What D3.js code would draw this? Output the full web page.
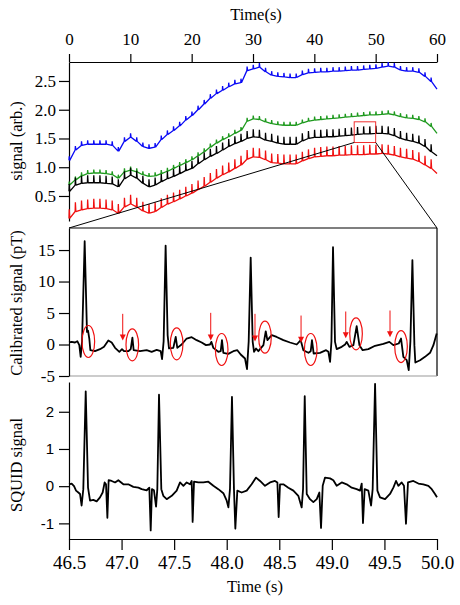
<!DOCTYPE html>
<html><head><meta charset="utf-8">
<script src="https://cdn.jsdelivr.net/npm/d3@7"></script>
<style>body{margin:0;background:#fff}svg{display:block}</style>
</head><body>
<svg id="c" width="460" height="605"></svg>
<script>
// ---------- DATA ----------
const overviewTime = [0,1,2,3,4,5,6,7,8,9,10,11,12,13,14,15,16,17,18,19,20,21,22,23,24,25,26,27,28,29,30,31,32,33,34,35,36,37,38,39,40,41,42,43,44,45,46,47,48,49,50,51,52,53,54,55,56,57,58,59,60];
const blueSignal = [1.12,1.30,1.38,1.40,1.40,1.40,1.40,1.38,1.28,1.45,1.52,1.45,1.36,1.33,1.35,1.48,1.57,1.64,1.72,1.82,1.90,2.00,2.10,2.20,2.28,2.34,2.40,2.45,2.47,2.68,2.71,2.74,2.66,2.60,2.58,2.57,2.56,2.56,2.61,2.64,2.65,2.66,2.66,2.67,2.67,2.68,2.69,2.69,2.70,2.71,2.72,2.74,2.76,2.74,2.69,2.67,2.67,2.65,2.58,2.49,2.36];
const greenSignal = [0.69,0.78,0.85,0.89,0.90,0.90,0.89,0.87,0.81,0.92,0.95,0.92,0.87,0.84,0.85,0.89,0.93,0.98,1.03,1.08,1.13,1.20,1.27,1.35,1.42,1.48,1.53,1.59,1.64,1.80,1.84,1.83,1.79,1.76,1.74,1.73,1.73,1.73,1.77,1.80,1.82,1.83,1.84,1.85,1.86,1.87,1.88,1.89,1.90,1.91,1.91,1.92,1.93,1.91,1.88,1.86,1.85,1.83,1.79,1.71,1.59];
const blackSignal = [0.58,0.69,0.72,0.73,0.73,0.73,0.72,0.71,0.66,0.80,0.86,0.81,0.72,0.66,0.69,0.75,0.80,0.84,0.89,0.94,0.98,1.06,1.13,1.19,1.24,1.30,1.36,1.41,1.45,1.50,1.53,1.52,1.47,1.45,1.42,1.40,1.40,1.40,1.46,1.50,1.52,1.52,1.53,1.53,1.54,1.55,1.56,1.57,1.58,1.58,1.59,1.59,1.58,1.55,1.50,1.47,1.45,1.42,1.36,1.27,1.20];
const redSignal = [0.11,0.23,0.26,0.28,0.29,0.29,0.28,0.26,0.20,0.31,0.36,0.31,0.24,0.20,0.23,0.30,0.36,0.40,0.45,0.50,0.55,0.61,0.67,0.74,0.81,0.87,0.92,0.98,1.04,1.14,1.18,1.17,1.13,1.08,1.07,1.06,1.06,1.06,1.11,1.15,1.18,1.19,1.20,1.20,1.21,1.21,1.22,1.22,1.22,1.23,1.23,1.24,1.23,1.21,1.18,1.16,1.14,1.10,1.04,0.98,0.89];
const spikeAmp = [0.07, 0.06, 0.13, 0.16];          // blue, green, black, red
const overviewXTicks = [0,10,20,30,40,50,60];
const overviewYTicks = [0.5,1.0,1.5,2.0,2.5];
const zoomWindow = [46.5, 50.0, 1.43, 1.79];        // t0, t1, v0, v1

const ecgTime = [46.500,46.525,46.557,46.579,46.598,46.611,46.624,46.649,46.671,46.681,46.693,46.703,46.747,46.795,46.833,46.874,46.906,46.938,46.979,47.004,47.023,47.064,47.087,47.103,47.115,47.175,47.239,47.286,47.334,47.372,47.385,47.400,47.419,47.438,47.451,47.492,47.515,47.530,47.571,47.619,47.667,47.714,47.762,47.803,47.841,47.854,47.873,47.920,47.943,47.955,47.968,48.015,48.063,48.101,48.133,48.174,48.193,48.209,48.228,48.247,48.260,48.279,48.301,48.349,48.371,48.387,48.428,48.475,48.539,48.602,48.666,48.704,48.729,48.777,48.799,48.811,48.827,48.887,48.945,48.967,48.983,48.996,49.011,49.030,49.046,49.094,49.126,49.141,49.167,49.205,49.236,49.262,49.293,49.347,49.411,49.490,49.547,49.585,49.636,49.658,49.680,49.712,49.731,49.747,49.766,49.785,49.794,49.839,49.886,49.934,49.966,49.997];
const ecgSignal = [0.32,0.42,0.32,0.53,-0.10,-1.96,0.50,16.40,2.00,2.20,0.95,-0.90,-1.06,-0.74,-0.37,0.63,0.32,-0.53,-1.16,-0.74,-1.06,-1.06,-0.74,1.10,-0.90,-1.06,-0.90,-1.16,-0.85,-1.06,-2.33,0.50,15.70,1.50,-0.63,-0.53,1.20,-0.53,0.00,0.95,1.16,0.69,0.32,-0.10,0.00,0.42,-0.53,-1.16,-1.06,0.69,-1.32,-1.48,-1.06,-0.90,-1.59,-2.22,-3.90,0.50,13.80,0.42,-1.16,-0.63,-1.06,-0.10,2.10,0.69,1.50,1.20,0.69,0.32,0.00,0.69,-0.90,-1.32,-1.06,0.69,-1.43,-1.32,-0.90,-1.16,-2.75,0.50,15.45,0.42,-0.74,-0.37,0.00,0.42,-0.37,-0.10,2.90,-0.10,-0.90,-0.74,-0.20,0.10,0.42,-0.10,0.16,0.95,-1.96,-2.49,-4.07,0.50,13.40,-0.10,-2.86,-2.49,-1.96,-1.32,-0.10,1.75];
const circleTime = [46.684,47.102,47.524,47.952,48.364,48.799,49.230,49.658];
const circleSignal = [0.48,-0.05,0.11,-0.79,1.16,-0.79,1.70,-0.32];
const arrowTime = [47.011,47.848,48.269,48.707,49.132,49.553];
const arrowFrom = [4.87,5.03,4.87,4.60,5.24,5.40];
const arrowTo = [0.63,0.63,0.48,0.27,1.00,1.16];
const ecgYTicks = [15,10,5,0,-5];

const squidTime = [46.500,46.525,46.548,46.567,46.589,46.605,46.620,46.636,46.659,46.681,46.700,46.731,46.763,46.795,46.820,46.839,46.852,46.865,46.877,46.906,46.938,46.969,47.017,47.064,47.112,47.160,47.191,47.239,47.264,47.277,47.289,47.308,47.328,47.340,47.356,47.378,47.397,47.429,47.477,47.524,47.556,47.588,47.619,47.651,47.667,47.676,47.689,47.730,47.778,47.825,47.873,47.920,47.968,48.000,48.016,48.031,48.050,48.069,48.082,48.101,48.142,48.190,48.237,48.279,48.317,48.364,48.412,48.459,48.482,48.494,48.507,48.539,48.586,48.634,48.681,48.713,48.726,48.742,48.761,48.792,48.824,48.856,48.881,48.897,48.913,48.935,48.983,49.014,49.046,49.094,49.141,49.189,49.236,49.268,49.284,49.296,49.312,49.347,49.373,49.388,49.411,49.433,49.458,49.506,49.553,49.585,49.610,49.633,49.664,49.686,49.705,49.724,49.775,49.823,49.870,49.918,49.950,49.981,50.000];
const squidSignal = [0.05,0.07,0.00,-0.12,-0.17,-0.21,-0.52,-0.08,2.55,-0.04,-0.39,-0.37,-0.41,-0.30,-0.17,0.10,0.05,-0.85,0.16,0.14,0.10,0.16,0.05,0.05,-0.02,-0.04,-0.08,-0.11,-0.04,-1.19,-0.08,-0.11,-0.55,-0.08,2.46,-0.08,-0.26,-0.35,-0.26,-0.12,0.10,0.01,0.10,0.05,0.14,-0.96,0.12,0.10,0.10,0.12,0.01,-0.08,-0.19,-0.39,-0.57,-0.08,2.40,-0.08,-1.14,-0.12,-0.17,-0.12,0.05,0.23,0.14,0.01,0.10,0.14,0.10,-0.83,0.05,0.05,-0.04,-0.12,-0.26,-0.57,-0.08,2.42,-0.21,-0.35,-0.43,-0.35,-0.17,-1.12,0.01,0.23,0.21,0.16,0.01,0.10,0.05,-0.04,-0.08,-0.12,0.07,-0.99,-0.08,-0.12,-0.52,-0.08,2.75,-0.12,-0.30,-0.35,-0.21,-0.04,0.14,0.01,0.10,0.01,-1.01,0.10,0.14,0.07,0.05,0.01,-0.08,-0.21,-0.30];
const squidYTicks = [2,1,0,-1];
const timeTicks = [46.5,47.0,47.5,48.0,48.5,49.0,49.5,50.0];

// ---------- STYLES ----------
const seriesColors = ["#0a0af5","#1f9a1f","#000000","#f01010"];
const SERIF = "Liberation Serif, Times New Roman, serif";
const SANS = "Liberation Sans, Arial, sans-serif";

const svg = d3.select("#c");
svg.append("rect").attr("width",460).attr("height",605).attr("fill","#fff");

// ---------- SCALES ----------
const xTop = d3.scaleLinear([0,60],[69,437]);
const yTop = d3.scaleLinear([0.065,2.83],[221,62]);
const xZ = d3.scaleLinear([46.5,50],[69,437]);
const yMid = d3.scaleLinear([-5,18.5],[376,228]);
const yBot = d3.scaleLinear([-1.42,2.8],[539,382]);

function styleAxis(g, font, size){
  g.attr("font-family", font).attr("font-size", size);
  g.selectAll("path.domain").attr("stroke","#000").attr("stroke-width",1.2);
  g.selectAll(".tick line").attr("stroke","#000").attr("stroke-width",1.2);
  g.selectAll(".tick text").attr("fill","#000");
}

// ---------- TOP PANEL ----------
const gTopX = svg.append("g").attr("transform",`translate(0,${yTop.range()[1]})`)
  .call(d3.axisTop(xTop).tickValues(overviewXTicks).tickFormat(d3.format("d")).tickSize(8).tickSizeOuter(0).tickPadding(9));
styleAxis(gTopX, SERIF, 17);
const gTopY = svg.append("g").attr("transform",`translate(${xTop.range()[0]},0)`)
  .call(d3.axisLeft(yTop).tickValues(overviewYTicks).tickFormat(d3.format(".1f")).tickSize(10).tickSizeOuter(0).tickPadding(3));
styleAxis(gTopY, SERIF, 17);

svg.append("text").attr("x",256).attr("y",20).attr("text-anchor","middle")
  .attr("font-family",SERIF).attr("font-size",16.5).text("Time(s)");
svg.append("text").attr("transform","translate(22,141) rotate(-90)").attr("text-anchor","middle")
  .attr("font-family",SERIF).attr("font-size",16.5).text("signal (arb.)");

const overviewSeries = [blueSignal, greenSignal, blackSignal, redSignal];
function combPoints(vals, amp){
  const pts = [];
  overviewTime.forEach((t,i)=>{
    const b = vals[i];
    pts.push([xTop(t), yTop(b)]);
    if(i < overviewTime.length-1){
      pts.push([xTop(t+0.04), yTop(b+amp)]);
      pts.push([xTop(t+0.12), yTop(b)]);
    }
  });
  return pts;
}
overviewSeries.forEach((vals,k)=>{
  svg.append("path").attr("d", d3.line()(combPoints(vals, spikeAmp[k])))
    .attr("fill","none").attr("stroke",seriesColors[k]).attr("stroke-width",1.3)
    .attr("stroke-linejoin","bevel");
});

// zoom window and connectors
const zx0 = xTop(zoomWindow[0]), zx1 = xTop(zoomWindow[1]);
const zy0 = yTop(zoomWindow[3]), zy1 = yTop(zoomWindow[2]);
svg.append("rect").attr("x",zx0).attr("y",zy0).attr("width",zx1-zx0).attr("height",zy1-zy0)
  .attr("fill","none").attr("stroke","#f03030").attr("stroke-width",1);
svg.append("line").attr("x1",zx0).attr("y1",zy1).attr("x2",xZ.range()[0]).attr("y2",yMid.range()[1])
  .attr("stroke","#000").attr("stroke-width",1);
svg.append("line").attr("x1",zx1).attr("y1",zy1).attr("x2",xZ.range()[1]).attr("y2",yMid.range()[1])
  .attr("stroke","#000").attr("stroke-width",1);

// ---------- MIDDLE PANEL ----------
const mx0 = xZ.range()[0], mx1 = xZ.range()[1], my0 = yMid.range()[1], my1 = yMid.range()[0];
svg.append("line").attr("x1",mx0).attr("y1",my0).attr("x2",mx1).attr("y2",my0).attr("stroke","#000").attr("stroke-width",1.2);
svg.append("line").attr("x1",mx1).attr("y1",my0).attr("x2",mx1).attr("y2",my1).attr("stroke","#000").attr("stroke-width",1.2);
svg.append("line").attr("x1",mx0).attr("y1",my1).attr("x2",mx1).attr("y2",my1).attr("stroke","#999").attr("stroke-width",1.2);
const gMidY = svg.append("g").attr("transform",`translate(${mx0},0)`)
  .call(d3.axisLeft(yMid).tickValues(ecgYTicks).tickFormat(d=>String(d)).tickSize(10).tickSizeOuter(0).tickPadding(4));
styleAxis(gMidY, SERIF, 17);
svg.append("text").attr("transform","translate(22,303) rotate(-90)").attr("text-anchor","middle")
  .attr("font-family",SERIF).attr("font-size",16.5).text("Calibrated signal (pT)");

const ecgPts = ecgTime.map((t,i)=>[xZ(t), yMid(ecgSignal[i])]);
svg.append("path").attr("d", d3.line()(ecgPts)).attr("fill","none")
  .attr("stroke","#000").attr("stroke-width",1.8).attr("stroke-linejoin","round");

circleTime.forEach((t,i)=>{
  svg.append("ellipse").attr("cx",xZ(t)).attr("cy",yMid(circleSignal[i]))
    .attr("rx",6.3).attr("ry",16).attr("fill","none").attr("stroke","#f01010").attr("stroke-width",1.2);
});
arrowTime.forEach((t,i)=>{
  const x = xZ(t), y0 = yMid(arrowFrom[i]), y1 = yMid(arrowTo[i]);
  svg.append("line").attr("x1",x).attr("y1",y0).attr("x2",x).attr("y2",y1-5)
    .attr("stroke","#f01010").attr("stroke-width",1);
  svg.append("path").attr("d",`M${x},${y1}L${x-3},${y1-6}L${x+3},${y1-6}Z`).attr("fill","#f01010");
});

// ---------- BOTTOM PANEL ----------
const gBotY = svg.append("g").attr("transform",`translate(${xZ.range()[0]},0)`)
  .call(d3.axisLeft(yBot).tickValues(squidYTicks).tickFormat(d=>String(d)).tickSize(10).tickSizeOuter(0).tickPadding(5));
styleAxis(gBotY, SANS, 15);
const gBotX = svg.append("g").attr("transform",`translate(0,${yBot.range()[0]})`)
  .call(d3.axisBottom(xZ).tickValues(timeTicks).tickFormat(d3.format(".1f")).tickSize(11).tickSizeOuter(0).tickPadding(6));
styleAxis(gBotX, SERIF, 19);
svg.append("text").attr("x",255).attr("y",592).attr("text-anchor","middle")
  .attr("font-family",SERIF).attr("font-size",16.5).text("Time (s)");
svg.append("text").attr("transform","translate(22,465) rotate(-90)").attr("text-anchor","middle")
  .attr("font-family",SERIF).attr("font-size",16.5).text("SQUID signal");

const sqPts = squidTime.map((t,i)=>[xZ(t), yBot(squidSignal[i])]);
svg.append("path").attr("d", d3.line()(sqPts)).attr("fill","none")
  .attr("stroke","#000").attr("stroke-width",1.8).attr("stroke-linejoin","round");
</script>
</body></html>
